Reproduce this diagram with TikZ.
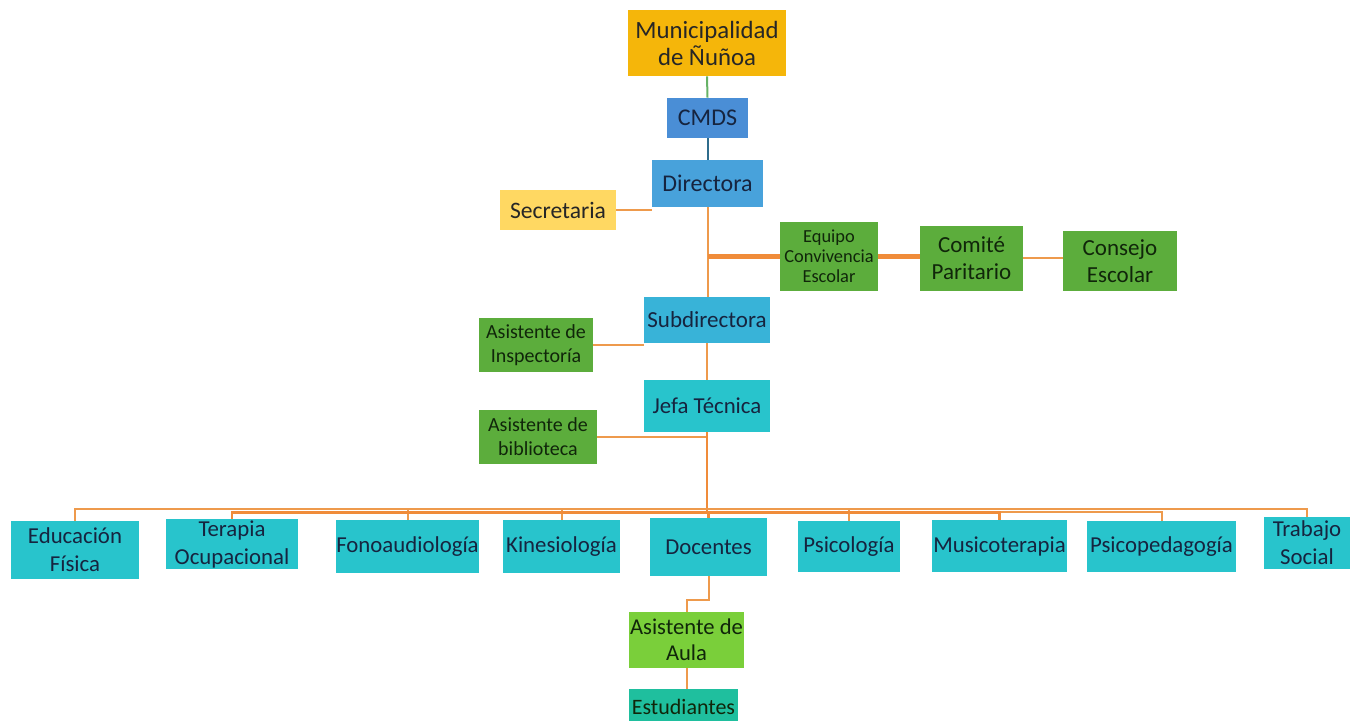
\documentclass[tikz,border=0pt]{standalone}
\usepackage{fontspec}
\setmainfont{Carlito}
\definecolor{cgold}{HTML}{F5B60A}
\definecolor{ccmds}{HTML}{4A8ED6}
\definecolor{cdir}{HTML}{48A2DB}
\definecolor{csec}{HTML}{FFD862}
\definecolor{cgreen}{HTML}{5CAD3C}
\definecolor{csub}{HTML}{38B3D8}
\definecolor{ccyan}{HTML}{28C4CC}
\definecolor{caula}{HTML}{7ACF3A}
\definecolor{cest}{HTML}{1FBF9E}
\definecolor{tnavy}{HTML}{16243F}
\definecolor{tgreen}{HTML}{10260A}
\definecolor{corange}{HTML}{EE9A4C}
\definecolor{corange2}{HTML}{F08C3A}
\definecolor{lgreen}{HTML}{66B266}
\definecolor{lblue}{HTML}{2F6C8C}
\newcommand\bx[7]{\node[box,#6,minimum width={(#4-#2)*0.5pt},minimum height={(#5-#3)*0.5pt}] (#1) at ({(#2+#4)/2},{(#3+#5)/2}) {#7};}
\begin{document}
\begin{tikzpicture}[x=0.5pt,y=-0.5pt,
  box/.style={inner sep=0pt, align=center, font=\fontsize{11.5}{13.5}\selectfont},
  gold/.style={fill=cgold, text=black!85, font=\fontsize{12.4}{13.5}\selectfont},
  cmdsb/.style={fill=ccmds, text=tnavy, font=\fontsize{12}{13.5}\selectfont},
  dirb/.style={fill=cdir, text=tnavy, font=\fontsize{12}{13.5}\selectfont},
  secb/.style={fill=csec, text=black!85, font=\fontsize{11.8}{13.5}\selectfont},
  greenb/.style={fill=cgreen, text=tgreen},
  smallgreen/.style={fill=cgreen, text=tgreen, font=\fontsize{9.2}{10}\selectfont},
  asis/.style={fill=cgreen, text=tgreen, font=\fontsize{10}{12}\selectfont},
  subb/.style={fill=csub, text=tnavy},
  cyanb/.style={fill=ccyan, text=tnavy, font=\fontsize{11.4}{14}\selectfont},
  aulab/.style={fill=caula, text=tgreen, font=\fontsize{11.3}{13}\selectfont},
  estb/.style={fill=cest, text=tgreen, font=\fontsize{11}{13}\selectfont},
  thinl/.style={draw=corange, line width=1pt},
  thickl/.style={draw=corange2, line width=2.3pt},
  midl/.style={draw=corange2, line width=1.4pt},
]
\useasboundingbox (0,0) rectangle (1361,721);
% boxes
\bx{muni}{628}{10}{786}{76}{gold}{Municipalidad\\de Ñuñoa}
\bx{cmds}{667}{98}{748}{138}{cmdsb}{CMDS}
\bx{dir}{652}{160}{763}{207}{dirb}{Directora}
\bx{sec}{500}{190}{616}{230}{secb}{Secretaria}
\bx{equipo}{780}{222}{878}{291}{smallgreen}{Equipo\\Convivencia\\Escolar}
\bx{comite}{920}{226}{1023}{291}{greenb}{Comité\\Paritario}
\bx{consejo}{1063}{231}{1177}{291}{greenb}{Consejo\\Escolar}
\bx{sub}{644}{297}{770}{343}{subb}{Subdirectora}
\bx{insp}{479}{318}{593}{372}{asis}{Asistente de\\Inspectoría}
\bx{jefa}{644}{380}{770}{432}{cyanb}{Jefa Técnica}
\bx{bib}{479}{410}{597}{464}{asis}{Asistente de\\biblioteca}
\bx{edf}{11}{521}{139}{579}{cyanb}{Educación\\Física}
\bx{ter}{166}{519}{298}{569}{cyanb}{Terapia\\Ocupacional}
\bx{fono}{337}{520}{478}{573}{cyanb}{Fonoaudiología}
\bx{kine}{503}{520}{620}{573}{cyanb}{Kinesiología}
\bx{doc}{650}{518}{767}{576}{cyanb}{Docentes}
\bx{psico}{798}{521}{900}{572}{cyanb}{Psicología}
\bx{musi}{932}{520}{1067}{572}{cyanb}{Musicoterapia}
\bx{psiped}{1087}{521}{1236}{572}{cyanb}{Psicopedagogía}
\bx{trab}{1264}{517}{1350}{569}{cyanb}{Trabajo\\Social}
\bx{aula}{629}{612}{744}{668}{aulab}{Asistente de\\Aula}
\bx{est}{629}{689}{738}{725}{estb}{Estudiantes}
% top connectors
\draw[draw=lgreen, line width=1pt] (muni.south) -- (cmds.north);
\draw[draw=lblue, line width=1pt] (cmds.south) -- (dir.north);
\draw[thinl] (dir.south) -- (dir.south |- sub.north);
\draw[thinl] (sec.east) -- (sec.east -| dir.west);
\draw[thickl] (equipo.west) -- (equipo.west -| dir.south);
\draw[thickl] (equipo.east) -- (equipo.east -| comite.west);
\draw[thinl] (comite.east) -- (comite.east -| consejo.west);
\draw[thinl] (sub.south) -- (sub.south |- jefa.north);
\draw[thinl] (insp.east) -- (insp.east -| sub.west);
\draw[thinl] (bib.east) -- (bib.east -| jefa.south);
% bus
\path (jefa.south) ++(0,77) coordinate (ba);
\path (jefa.south) ++(0,80) coordinate (bb);
\draw[midl] (jefa.south) -- (bb);
\foreach \c in {edf,fono,kine,psico,trab}{\draw[thinl] (ba) -| (\c.north);}
\foreach \c in {psiped}{\draw[thinl] (bb) -| (\c.north);}
\foreach \c in {ter,musi}{\draw[midl] (bb) -| (\c.north);}
\draw[midl] (bb) -| (doc.north);
% lower
\draw[thinl] (doc.south) -- ++(0,24) -| (aula.north);
\draw[thinl] (aula.south) -- (aula.south |- est.north);
\end{tikzpicture}
\end{document}
